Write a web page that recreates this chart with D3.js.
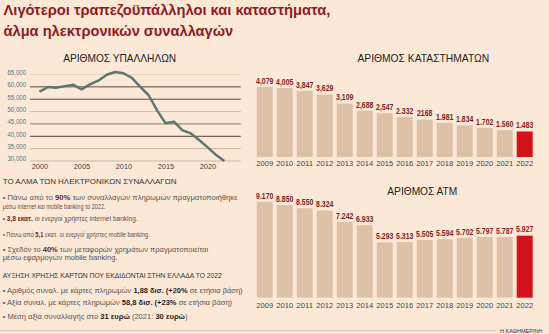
<!DOCTYPE html>
<html><head><meta charset="utf-8">
<script src="https://cdn.jsdelivr.net/npm/d3@7"></script>
<style>
html,body{margin:0;padding:0;background:#fce8d7;}
svg{display:block;font-family:"Liberation Sans",Arial,sans-serif;}
</style></head><body>
<svg id="c" width="549" height="334"></svg>
<script>
// ---------- data ----------
const titleLines = ["Λιγότεροι τραπεζοϋπάλληλοι και καταστήματα,", "άλμα ηλεκτρονικών συναλλαγών"];
const empTitle = "ΑΡΙΘΜΟΣ ΥΠΑΛΛΗΛΩΝ";
const empYears = [2000,2001,2002,2003,2004,2005,2006,2007,2008,2009,2010,2011,2012,2013,2014,2015,2016,2017,2018,2019,2020,2021,2022];
const empValues = [57900,59700,59400,60100,60700,58800,60800,62300,64700,65800,65300,63400,59800,56400,50300,45100,45700,42300,41000,38300,35400,32300,29800];
const empTicks = [30000,35000,40000,45000,50000,55000,60000,65000];
const empTickLabels = ["30,000","35,000","40,000","45,000","50,000","55,000","60,000","65,000"];
const empXTicks = [2000,2005,2010,2015,2020];

const barYears = ["2009","2010","2011","2012","2013","2014","2015","2016","2017","2018","2019","2020","2021","2022"];
const branchTitle = "ΑΡΙΘΜΟΣ ΚΑΤΑΣΤΗΜΑΤΩΝ";
const branchValues = [4079,4005,3847,3629,3109,2688,2547,2332,2168,1981,1834,1702,1560,1483];
const branchLabels = ["4,079","4,005","3,847","3,629","3,109","2,688","2,547","2.332","2168","1.981","1.834","1.702","1.560","1.483"];
const atmTitle = "ΑΡΙΘΜΟΣ ΑΤΜ";
const atmValues = [9170,8850,8550,8324,7242,6933,5293,5313,5505,5594,5702,5797,5787,5927];
const atmLabels = ["9.170","8.850","8.550","8.324","7.242","6.933","5.293","5.313","5.505","5.594","5.702","5.797","5.787","5.927"];

const heading1 = "ΤΟ ΑΛΜΑ ΤΩΝ ΗΛΕΚΤΡΟΝΙΚΩΝ ΣΥΝΑΛΛΑΓΩΝ";
const block1 = [
  [["• Πάνω από το ",0],["90%",1],[" των συναλλαγών πληρωμών πραγματοποιήθηκε",0]],
  [["μέσω internet και mobile banking το 2022.",0]],
  [["• ",0],["3,8 εκατ.",1],[" οι ενεργοί χρήστες internet banking.",0]],
  [["• Πάνω από ",0],["5,1",1],[" εκατ. οι ενεργοί χρήστες mobile banking.",0]],
  [["• Σχεδόν το ",0],["40%",1],[" των μεταφορών χρημάτων πραγματοποιείται",0]],
  [["μέσω εφαρμογών mobile banking.",0]]
];
const heading2 = "ΑΥΞΗΣΗ ΧΡΗΣΗΣ ΚΑΡΤΩΝ ΠΟΥ ΕΚΔΙΔΟΝΤΑΙ ΣΤΗΝ ΕΛΛΑΔΑ ΤΟ 2022";
const block2 = [
  [["• Αριθμός συναλ. με κάρτες πληρωμών ",0],["1,88 δισ. (+20%",1],[" σε ετήσια βάση)",0]],
  [["• Αξία συναλ. με κάρτες πληρωμών ",0],["58,8 δισ. (+23%",1],[" σε ετήσια βάση)",0]],
  [["• Μέση αξία συναλλαγής στο ",0],["31 ευρώ",1],[" (2021: ",0],["30 ευρώ",1],[")",0]]
];
const source = "Η ΚΑΘΗΜΕΡΙΝΗ";

// ---------- helpers ----------
const svg = d3.select("#c");
function fitW(sel, w){ sel.attr("textLength", w).attr("lengthAdjust","spacingAndGlyphs"); }
function squeeze(sel, f){ sel.each(function(){ const L=this.getComputedTextLength(); d3.select(this).attr("textLength", L*f).attr("lengthAdjust","spacingAndGlyphs"); }); }
// text placed at local 0,0 then scaled horizontally to a target width
function scaledText(x, y, w, anchor){
  const g = svg.append("g");
  const t = g.append("text").attr("x",0).attr("y",0).attr("text-anchor",anchor||"start");
  return {g, t, fit(){ const L = t.node().getBBox().width; g.attr("transform",`translate(${x},${y}) scale(${w/L},1)`); return t; }};
}

svg.append("rect").attr("width",549).attr("height",334).attr("fill","#fce8d7");

// ---------- main title ----------
const tW = [327, 230], tY = [15, 35.5];
titleLines.forEach((t,i)=>{
  const s = scaledText(3.5, tY[i], tW[i]);
  s.t.attr("font-size",15).attr("font-weight","bold").attr("fill","#8e1b1f").text(t);
  s.fit();
});

// ---------- line chart ----------
{ const s = scaledText(119.7, 61.5, 113, "middle");
  s.t.attr("font-size",10.5).attr("fill","#222").text(empTitle); s.fit(); }

const xE = d3.scaleLinear().domain([2000,2022]).range([39.5, 39.5+22*8.4]);
const yE = d3.scaleLinear().domain([30000,65000]).range([160.5, 74]);
const gridColor = {65000:"#ecd4c1",60000:"#5e4a3c",55000:"#5e4a3c",50000:"#d2bba7",45000:"#8c7767",40000:"#4f3e33",35000:"#cdb5a1",30000:"#cdb5a1"};

const gy = svg.append("g").attr("transform","translate(30,0)")
  .call(d3.axisLeft(yE).tickValues(empTicks).tickSize(-210.7).tickPadding(4)
        .tickFormat(d=>empTickLabels[empTicks.indexOf(d)]));
gy.select(".domain").remove();
gy.selectAll(".tick line").attr("stroke",d=>gridColor[d]).attr("stroke-width",1);
gy.selectAll(".tick text").attr("dy","0.05em").attr("font-size",7).attr("fill","#587080")
  .attr("font-family","'Liberation Sans',Arial,sans-serif").call(fitW,18.5);

const gx = svg.append("g").attr("transform","translate(0,160.5)")
  .call(d3.axisBottom(xE).tickValues(empXTicks).tickSize(0).tickPadding(3).tickFormat(d3.format("d")));
gx.select(".domain").remove();
gx.selectAll(".tick text").attr("font-size",7.2).attr("fill","#444")
  .attr("font-family","'Liberation Sans',Arial,sans-serif").call(fitW,16.5);

svg.append("path").datum(empYears.map((y,i)=>[y,empValues[i]]))
  .attr("fill","none").attr("stroke","#5d7870").attr("stroke-width",2.5).attr("stroke-linejoin","round")
  .attr("d", d3.line().x(d=>xE(d[0])).y(d=>yE(d[1])));

// ---------- bar charts ----------
function barChart(values, labels, bottom, topVal, topY, title, titleY, titleX, titleW, yearPad){
  const s = scaledText(titleX, titleY, titleW, "middle");
  s.t.attr("font-size",10.5).attr("fill","#222").text(title); s.fit();
  const x = d3.scaleBand().domain(barYears).range([254.7,534.7]).paddingInner(0.2).paddingOuter(0.1);
  const y = d3.scaleLinear().domain([0, topVal]).range([bottom, topY]);
  const g = svg.append("g");
  g.selectAll("rect").data(values).join("rect")
    .attr("x",(d,i)=>x(barYears[i])).attr("width",x.bandwidth())
    .attr("y",d=>y(d)).attr("height",d=>bottom-y(d))
    .attr("fill",(d,i)=> i===values.length-1 ? "#d3121c" : "#dcc1a6");
  g.selectAll("text.v").data(values).join("text").attr("class","v")
    .attr("x",(d,i)=>x(barYears[i])+x.bandwidth()/2).attr("y",d=>y(d)-3.2)
    .attr("text-anchor","middle").attr("font-size",8.6).attr("font-weight","bold")
    .attr("fill",(d,i)=> i===values.length-1 ? "#a3141b" : "#7a1f1f")
    .text((d,i)=>labels[i]).call(squeeze,0.8);
  const ax = svg.append("g").attr("transform",`translate(0,${bottom})`)
    .call(d3.axisBottom(x).tickSize(0).tickPadding(yearPad));
  ax.select(".domain").remove();
  ax.selectAll(".tick text").attr("font-size",7.3).attr("fill","#444")
    .attr("font-family","'Liberation Sans',Arial,sans-serif").call(fitW,16.8);
}
barChart(branchValues, branchLabels, 157, 4079, 86.8, branchTitle, 61.5, 423.3, 132, 4);
barChart(atmValues, atmLabels, 297.7, 9170, 201.7, atmTitle, 195, 422.3, 70, 5.5);

// ---------- text block ----------
function head(t, y, w){
  const s = scaledText(2.7, y, w);
  s.t.attr("font-size",8).attr("fill","#333").text(t); s.fit();
}
function para(segs, y, w, boldColor){
  const s = scaledText(2.7, y, w);
  s.t.attr("font-size",7.3).attr("fill","#5a5350");
  segs.forEach(sg=>{
    s.t.append("tspan").text(sg[0]).attr("font-weight",sg[1]?"bold":null).attr("fill",sg[1]?boldColor:null);
  });
  s.fit();
}
head(heading1, 184, 174);
const b1Y = [200.3, 208.6, 220.8, 236.8, 252.2, 260.2];
const b1W = [236, 103, 135, 147, 206, 115];
block1.forEach((sg,i)=>para(sg,b1Y[i],b1W[i],"#6b1e1e"));
head(heading2, 277.5, 220);
const b2Y = [293, 305, 319];
const b2W = [240, 230, 185];
block2.forEach((sg,i)=>para(sg,b2Y[i],b2W[i],"#2a1d1a"));

// ---------- footer ----------
svg.append("line").attr("x1",0).attr("x2",496).attr("y1",330.5).attr("y2",330.5).attr("stroke","#dcc9b8").attr("stroke-width",1.5);
{ const s = scaledText(500, 332.5, 42.5);
  s.t.attr("font-size",6.2).attr("fill","#333").text(source); s.fit(); }
</script>
</body></html>
